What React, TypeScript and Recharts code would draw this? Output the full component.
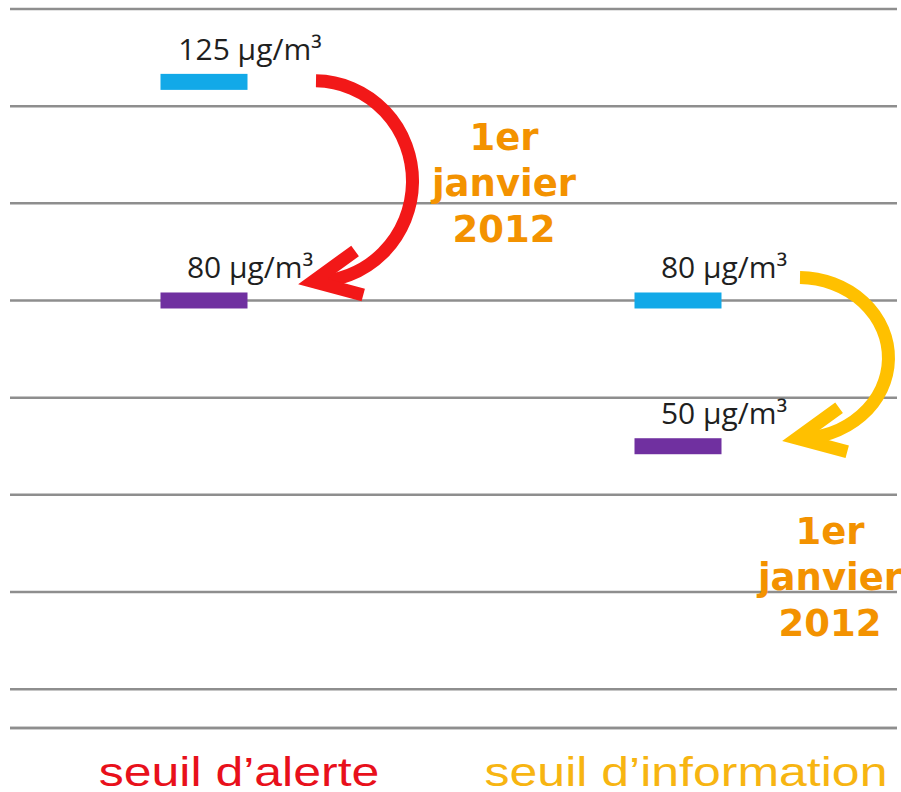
import { CartesianGrid, ComposedChart, Scatter, XAxis, YAxis } from "recharts";

document.body.style.margin = "0";

// thresholds (µg/m³) before and from 1 Jan 2012
const CATEGORIES = ["seuil d’alerte", "seuil d’information"];
const AVANT_2012 = [125, 80];
const DEPUIS_2012 = [80, 50];
const Y_TICKS = [0, 20, 40, 60, 80, 100, 120, 140];
const Y_DOMAIN: [number, number] = [-8, 140];
const UNIT = "µg/m³";
const DATE_LINES = ["1er", "janvier", "2012"];

const data = CATEGORIES.map((name, i) => ({
  name,
  avant: AVANT_2012[i],
  apres: DEPUIS_2012[i],
}));

const W = 901;
const H = 792;
const MARGIN = { top: 9, right: 4, bottom: 0, left: 10 };
const X_AXIS_H = 64;
const PX_PER_UNIT =
  (H - MARGIN.top - MARGIN.bottom - X_AXIS_H) / (Y_DOMAIN[1] - Y_DOMAIN[0]);

const GRID = "#8e8e8e";
const BLUE = "#12A9E8";
const PURPLE = "#7030A0";
const CAT_COLORS = ["#E8101B", "#F7B512"];
const ARROW_COLORS = ["#F21818", "#FFC000"];
const DATE_COLOR = "#F39200";

// small per-category layout tweaks
const LABEL_SHIFT = [35, 8];
const ARROW = [
  { sx: 112, sy: -1, tx: 109, ty: -19, rx: 98 },
  { sx: 122, sy: -23, tx: 119, ty: -8, rx: 90 },
];
const DATE_POS = [
  { dx: 300, dy: -150 },
  { dx: 152, dy: 98 },
];

function Marker({ x, y, fill, value }: { x: number; y: number; fill: string; value: number }) {
  return (
    <g>
      <rect x={x - 43.5} y={y - 8} width={87} height={16} fill={fill} />
      <text
        x={x + 46}
        y={y - 22}
        textAnchor="middle"
        fontFamily="Open Sans"
        fontSize={30}
        fill="#1f1f1f"
      >
        {`${value} ${UNIT}`}
      </text>
    </g>
  );
}

function BeforeShape(props: any) {
  return <Marker x={props.cx} y={props.cy} fill={BLUE} value={props.payload.avant} />;
}

function AfterShape(props: any) {
  const i = CATEGORIES.indexOf(props.payload.name);
  const bx = props.cx;
  const yA = props.cy;
  const yB = yA - (props.payload.avant - props.payload.apres) * PX_PER_UNIT;
  const a = ARROW[i];
  const sx = bx + a.sx;
  const sy = yB + a.sy;
  const tx = bx + a.tx;
  const ty = yA + a.ty;
  const ry = (ty - sy) / 2;
  const rad = Math.PI / 180;
  const l1 = [tx + 52 * Math.cos(-36 * rad), ty + 52 * Math.sin(-36 * rad)];
  const l2 = [tx + 52 * Math.cos(15 * rad), ty + 52 * Math.sin(15 * rad)];
  const d = DATE_POS[i];
  return (
    <g>
      <Marker x={bx} y={yA} fill={PURPLE} value={props.payload.apres} />
      <path
        d={`M${sx},${sy} A${a.rx},${ry} 0 0 1 ${tx},${ty}`}
        fill="none"
        stroke={ARROW_COLORS[i]}
        strokeWidth={13}
      />
      <path
        d={`M${l1[0]},${l1[1]} L${tx},${ty} L${l2[0]},${l2[1]}`}
        fill="none"
        stroke={ARROW_COLORS[i]}
        strokeWidth={13}
        strokeLinejoin="miter"
      />
      {DATE_LINES.map((line, k) => (
        <text
          key={line}
          x={bx + d.dx}
          y={yA + d.dy + k * 46}
          textAnchor="middle"
          fontFamily="DejaVu Sans"
          fontWeight="bold"
          fontSize={37}
          fill={DATE_COLOR}
        >
          {line}
        </text>
      ))}
    </g>
  );
}

function CategoryTick({ x, y, payload, index }: any) {
  return (
    <g transform={`translate(${x + LABEL_SHIFT[index]},${y + 50}) scale(1.25,1)`}>
      <text
        textAnchor="middle"
        fontFamily="Liberation Sans"
        fontSize={40}
        fill={CAT_COLORS[index]}
      >
        {payload.value}
      </text>
    </g>
  );
}

export default function App() {
  return (
    <ComposedChart width={W} height={H} data={data} margin={MARGIN}>
      <CartesianGrid vertical={false} stroke={GRID} strokeWidth={2.5} />
      <XAxis
        dataKey="name"
        type="category"
        height={X_AXIS_H}
        interval={0}
        padding={{ left: 194, right: 219 }}
        tickLine={false}
        axisLine={{ stroke: GRID, strokeWidth: 2.5 }}
        tick={<CategoryTick />}
      />
      <YAxis hide type="number" domain={Y_DOMAIN} ticks={Y_TICKS} />
      <Scatter dataKey="avant" isAnimationActive={false} shape={BeforeShape} />
      <Scatter dataKey="apres" isAnimationActive={false} shape={AfterShape} />
    </ComposedChart>
  );
}
